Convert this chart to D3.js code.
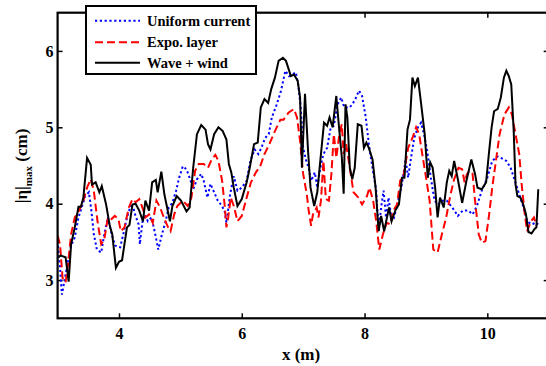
<!DOCTYPE html>
<html>
<head>
<meta charset="utf-8">
<script src="https://cdn.jsdelivr.net/npm/d3@7"></script>
<style>
  body { margin: 0; background: #fff; }
  svg text { font-family: "Liberation Serif", "Times New Roman", serif; font-weight: bold; }
</style>
</head>
<body>
<div id="chart"></div>
<script>
// series: [x (m), |eta|max (cm)]
const uniformCurrent = [
  [3.00,3.51],[3.04,3.16],[3.07,2.81],[3.12,3.03],[3.17,3.25],[3.22,3.45],[3.28,3.56],[3.34,3.82],
  [3.40,3.97],[3.45,4.10],[3.51,4.15],[3.55,3.91],[3.59,3.60],[3.64,3.40],[3.71,3.36],[3.76,3.60],
  [3.82,3.82],[3.88,3.60],[3.94,3.45],[4.02,3.43],[4.07,3.60],[4.13,3.82],[4.19,3.97],[4.23,3.95],
  [4.27,3.84],[4.32,3.73],[4.34,3.47],[4.38,3.75],[4.42,3.86],[4.47,3.77],[4.53,3.82],[4.58,3.64],
  [4.64,3.40],[4.70,3.60],[4.76,3.77],[4.81,3.95],[4.87,4.01],[4.93,4.17],[4.98,4.34],[5.04,4.49],
  [5.10,4.45],[5.15,4.34],[5.21,4.19],[5.27,4.32],[5.34,4.39],[5.38,4.30],[5.44,4.08],[5.49,4.26],
  [5.55,4.15],[5.61,4.04],[5.66,3.99],[5.72,3.91],[5.75,3.75],[5.81,4.12],[5.87,4.36],[5.93,4.17],
  [6.00,4.21],[6.08,4.30],[6.14,4.56],[6.21,4.71],[6.27,4.65],[6.32,4.73],[6.38,4.86],[6.44,4.91],
  [6.49,5.13],[6.57,5.30],[6.64,5.48],[6.71,5.74],[6.77,5.67],[6.82,5.69],[6.88,5.72],[6.92,5.56],
  [6.96,5.26],[7.00,4.73],[7.05,4.56],[7.09,4.47],[7.13,4.30],[7.19,4.41],[7.23,4.21],[7.28,4.47],
  [7.33,4.65],[7.39,4.73],[7.45,5.00],[7.50,5.02],[7.56,5.30],[7.62,5.39],[7.67,5.26],[7.76,5.26],
  [7.84,5.35],[7.91,5.48],[7.96,5.41],[8.02,5.13],[8.07,4.78],[8.13,4.47],[8.19,4.17],[8.23,3.64],
  [8.27,3.95],[8.31,4.17],[8.35,3.82],[8.39,4.08],[8.43,3.86],[8.48,3.82],[8.55,4.04],[8.61,4.26],
  [8.67,4.58],[8.71,4.34],[8.75,4.56],[8.81,4.86],[8.87,5.00],[8.92,5.06],[8.97,4.91],[9.02,4.69],
  [9.08,4.34],[9.14,4.04],[9.20,3.99],[9.27,4.04],[9.34,4.04],[9.43,3.95],[9.52,3.84],[9.60,3.91],
  [9.69,3.91],[9.76,3.86],[9.83,3.97],[9.91,4.17],[10.00,4.34],[10.08,4.56],[10.16,4.62],[10.22,4.60],
  [10.31,4.56],[10.38,4.47],[10.45,4.30],[10.52,4.12],[10.59,3.95],[10.65,3.77],[10.72,3.73],[10.79,3.75],
  [10.83,3.73]
];

const expoLayer = [
  [3.00,3.58],[3.04,3.47],[3.08,3.03],[3.13,2.97],[3.17,3.21],[3.22,3.60],[3.28,3.82],[3.35,3.91],
  [3.42,4.04],[3.48,4.21],[3.54,4.32],[3.59,4.17],[3.65,3.77],[3.71,3.47],[3.76,3.53],[3.82,3.82],
  [3.88,3.80],[3.93,3.84],[3.99,3.80],[4.03,3.64],[4.09,3.69],[4.16,3.95],[4.22,4.06],[4.27,4.02],
  [4.33,4.06],[4.39,3.93],[4.43,3.82],[4.49,3.86],[4.55,3.75],[4.61,4.04],[4.67,3.95],[4.73,3.82],
  [4.80,3.69],[4.84,3.64],[4.90,3.86],[4.95,3.97],[5.04,4.04],[5.12,3.97],[5.18,4.08],[5.24,4.43],
  [5.30,4.52],[5.38,4.52],[5.45,4.47],[5.51,4.58],[5.57,4.64],[5.62,4.56],[5.68,4.30],[5.72,3.99],
  [5.75,3.69],[5.78,3.82],[5.82,4.08],[5.87,3.97],[5.93,3.77],[6.00,3.84],[6.08,4.08],[6.15,4.28],
  [6.23,4.41],[6.30,4.49],[6.37,4.65],[6.45,4.78],[6.54,4.95],[6.63,5.10],[6.68,5.10],[6.76,5.19],
  [6.85,5.24],[6.90,5.13],[6.95,4.82],[7.00,4.39],[7.06,4.12],[7.09,3.91],[7.13,3.71],[7.16,3.86],
  [7.22,3.95],[7.25,3.82],[7.29,4.04],[7.33,4.56],[7.37,4.06],[7.42,4.04],[7.46,4.39],[7.50,4.91],
  [7.54,4.60],[7.59,4.91],[7.63,5.04],[7.66,4.65],[7.70,4.78],[7.76,4.47],[7.82,4.15],[7.90,4.08],
  [7.96,3.99],[8.04,4.10],[8.08,4.21],[8.14,4.04],[8.19,3.77],[8.24,3.40],[8.30,3.60],[8.36,3.75],
  [8.42,3.73],[8.47,3.91],[8.53,3.99],[8.58,4.30],[8.64,4.39],[8.71,4.73],[8.78,4.86],[8.84,5.00],
  [8.89,4.91],[8.95,4.60],[9.01,4.30],[9.06,4.04],[9.12,3.40],[9.19,3.36],[9.26,3.60],[9.33,3.82],
  [9.40,4.12],[9.46,4.32],[9.53,4.47],[9.59,4.45],[9.63,4.28],[9.67,4.39],[9.71,4.43],[9.76,4.39],
  [9.80,4.04],[9.86,3.60],[9.91,3.49],[9.97,3.51],[10.03,3.86],[10.08,4.21],[10.14,4.56],[10.20,4.91],
  [10.28,5.17],[10.35,5.26],[10.40,5.17],[10.46,4.91],[10.52,4.65],[10.56,4.25],[10.61,3.86],[10.65,3.64],
  [10.71,3.77],[10.76,3.82],[10.80,3.71]
];

const waveWind = [
  [3.01,3.30],[3.05,3.32],[3.13,3.30],[3.18,2.98],[3.22,3.47],[3.28,3.69],[3.34,3.96],[3.38,3.96],
  [3.42,4.08],[3.48,4.60],[3.54,4.51],[3.56,4.25],[3.62,4.28],[3.68,4.15],[3.72,4.23],[3.79,3.99],
  [3.85,3.71],[3.89,3.60],[3.95,3.16],[4.00,3.24],[4.05,3.26],[4.13,3.69],[4.17,3.72],[4.22,3.99],
  [4.27,4.00],[4.33,3.91],[4.39,3.77],[4.43,4.04],[4.49,3.91],[4.54,4.28],[4.60,4.31],[4.63,4.15],
  [4.69,4.42],[4.74,4.12],[4.83,3.77],[4.87,3.97],[4.94,4.10],[5.01,4.04],[5.10,3.90],[5.15,3.95],
  [5.21,4.48],[5.27,4.91],[5.34,5.03],[5.41,4.97],[5.45,4.78],[5.49,4.71],[5.55,4.91],[5.62,5.00],
  [5.69,4.95],[5.75,4.84],[5.79,4.52],[5.83,4.41],[5.87,4.21],[5.93,3.97],[6.00,4.06],[6.08,4.28],
  [6.13,4.47],[6.20,4.78],[6.26,4.80],[6.31,5.26],[6.37,5.37],[6.43,5.32],[6.48,5.50],[6.54,5.65],
  [6.60,5.87],[6.67,5.91],[6.72,5.87],[6.80,5.67],[6.85,5.69],[6.91,5.61],[6.95,5.39],[6.98,4.47],
  [7.03,5.44],[7.08,4.69],[7.12,4.21],[7.18,3.97],[7.23,4.15],[7.29,4.65],[7.34,5.06],[7.39,5.02],
  [7.43,5.13],[7.48,5.00],[7.54,5.41],[7.59,4.95],[7.63,4.61],[7.66,4.13],[7.69,5.30],[7.72,5.13],
  [7.76,4.47],[7.80,4.32],[7.84,4.47],[7.89,5.04],[7.95,5.02],[7.99,4.73],[8.03,4.80],[8.07,4.73],
  [8.13,4.58],[8.18,4.21],[8.23,3.64],[8.27,3.84],[8.32,3.64],[8.36,3.80],[8.40,3.95],[8.44,3.77],
  [8.50,3.91],[8.56,3.99],[8.61,4.34],[8.65,4.34],[8.70,4.97],[8.74,5.10],[8.78,5.65],[8.82,5.54],
  [8.87,5.65],[8.92,5.32],[8.98,4.91],[9.03,4.34],[9.07,4.54],[9.11,4.47],[9.15,4.21],[9.19,3.82],
  [9.23,4.08],[9.29,3.95],[9.34,4.28],[9.38,4.43],[9.42,4.36],[9.46,4.56],[9.52,4.32],[9.59,4.01],
  [9.66,4.30],[9.74,4.58],[9.80,4.39],[9.84,4.21],[9.91,4.19],[9.98,4.28],[10.03,4.69],[10.07,5.00],
  [10.11,5.21],[10.17,5.24],[10.22,5.39],[10.27,5.65],[10.31,5.74],[10.35,5.67],[10.39,5.56],[10.43,4.95],
  [10.46,4.25],[10.49,4.10],[10.54,4.08],[10.59,3.98],[10.63,3.86],[10.67,3.63],[10.72,3.61],[10.77,3.67],
  [10.80,3.69],[10.83,4.19]
];

const seriesNames = ["Uniform current", "Expo. layer", "Wave + wind"];
const xTicks = [4, 6, 8, 10];
const yTicks = [3, 4, 5, 6];

const W = 546, H = 366;
const margin = { top: 12.7, right: -2.7, bottom: 47.7, left: 57.6 };
const width = W - margin.left - margin.right;
const height = H - margin.top - margin.bottom;

const svg = d3.select("#chart").append("svg")
  .attr("width", W)
  .attr("height", H);

const g = svg.append("g")
  .attr("transform", `translate(${margin.left},${margin.top})`);

const x = d3.scaleLinear().domain([3, 11]).range([0, width]);
const y = d3.scaleLinear().domain([2.5, 6.5]).range([height, 0]);

g.append("defs").append("clipPath").attr("id", "clip")
  .append("rect").attr("width", width).attr("height", height);

// axes, ticks pointing inward on all sides
const styleAxis = sel => {
  sel.select(".domain").remove();
  sel.selectAll(".tick line").attr("stroke", "#000").attr("stroke-width", 1.5);
  sel.selectAll(".tick text").attr("fill", "#000").style("font-size", "16px");
};
const fmt = d3.format("d");

g.append("g")
  .attr("transform", `translate(0,${height})`)
  .call(d3.axisBottom(x).tickValues(xTicks).tickFormat(fmt).tickSizeInner(-5).tickSizeOuter(0).tickPadding(9))
  .call(styleAxis);
g.append("g")
  .call(d3.axisTop(x).tickValues(xTicks).tickSizeInner(-5).tickSizeOuter(0).tickFormat(""))
  .call(styleAxis);
g.append("g")
  .call(d3.axisLeft(y).tickValues(yTicks).tickFormat(fmt).tickSizeInner(-5).tickSizeOuter(0).tickPadding(4))
  .call(styleAxis);
g.append("g")
  .attr("transform", `translate(${width},0)`)
  .call(d3.axisRight(y).tickValues(yTicks).tickSizeInner(-5).tickSizeOuter(0).tickFormat(""))
  .call(styleAxis);

const line = d3.line().x(d => x(d[0])).y(d => y(d[1]));

const series = [
  { name: seriesNames[0], data: uniformCurrent, color: "#0000ff", dash: "2.2,2.6" },
  { name: seriesNames[1], data: expoLayer, color: "#ff0000", dash: "8,4" },
  { name: seriesNames[2], data: waveWind, color: "#000000", dash: null }
];

const plot = g.append("g").attr("clip-path", "url(#clip)");
series.forEach(s => {
  plot.append("path")
    .datum(s.data)
    .attr("fill", "none")
    .attr("stroke", s.color)
    .attr("stroke-width", 2)
    .attr("stroke-dasharray", s.dash)
    .attr("d", line);
});

// frame
g.append("rect")
  .attr("width", width)
  .attr("height", height)
  .attr("fill", "none")
  .attr("stroke", "#000")
  .attr("stroke-width", 2.2);

// axis titles
svg.append("text")
  .attr("x", 301)
  .attr("y", 360)
  .attr("text-anchor", "middle")
  .style("font-size", "17px")
  .text("x (m)");

const yl = svg.append("text")
  .attr("transform", "translate(27,166) rotate(-90)")
  .attr("text-anchor", "middle")
  .style("font-size", "17px");
yl.append("tspan").text("|\u03b7|");
yl.append("tspan").attr("dy", 5).style("font-size", "11px").text("max");
yl.append("tspan").attr("dy", -5).text(" (cm)");

// legend
const legend = svg.append("g");
legend.append("rect")
  .attr("x", 86).attr("y", 6)
  .attr("width", 170).attr("height", 68)
  .attr("fill", "#fff")
  .attr("stroke", "#000")
  .attr("stroke-width", 2);
const rowY = [20.7, 42.3, 62.7];
series.forEach((s, i) => {
  legend.append("line")
    .attr("x1", 95).attr("x2", 140)
    .attr("y1", rowY[i]).attr("y2", rowY[i])
    .attr("stroke", s.color)
    .attr("stroke-width", 2)
    .attr("stroke-dasharray", s.dash);
  legend.append("text")
    .attr("x", 147).attr("y", rowY[i] + 5)
    .style("font-size", "14.5px")
    .text(s.name);
});
</script>
</body>
</html>
